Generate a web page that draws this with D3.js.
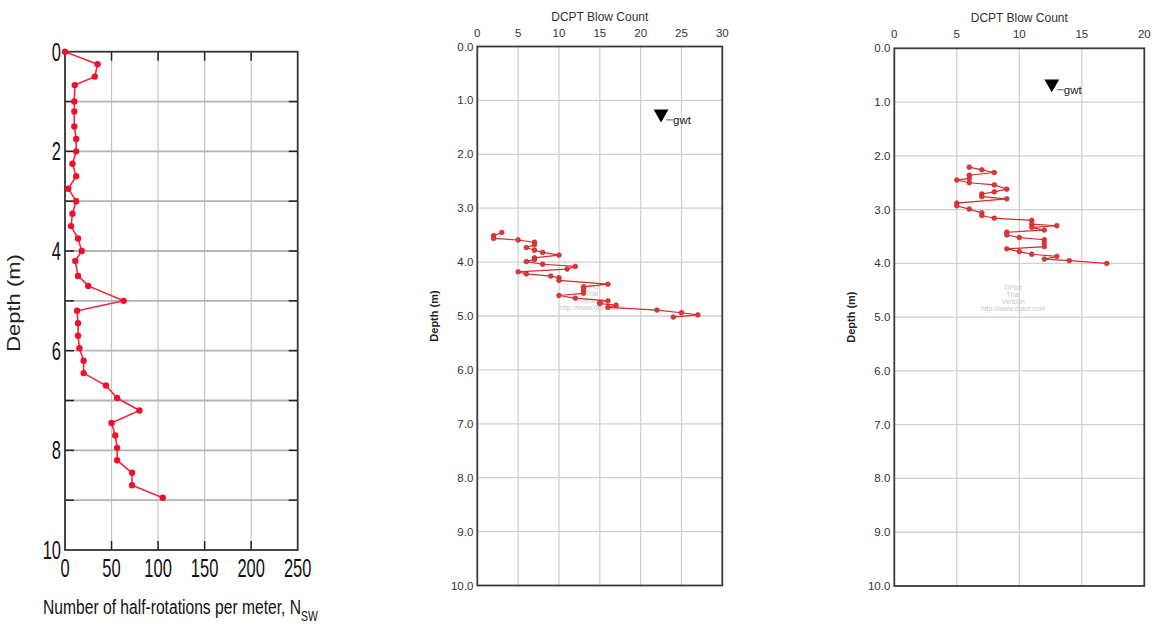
<!DOCTYPE html>
<html>
<head>
<meta charset="utf-8">
<script src="https://cdn.jsdelivr.net/npm/d3@7"></script>
<style>
  html, body { margin: 0; padding: 0; background: #fff; }
  svg { display: block; }
  .narrow { font-family: 'Liberation Sans', Arial, sans-serif; }
  .dp { font-family: 'Liberation Sans', Arial, sans-serif; }
</style>
</head>
<body>
<div id="chart"></div>
<script>
// left panel: Swedish weight sounding, half-rotations per meter
var swsDepth = [0, 0.25, 0.5, 0.67, 1.0, 1.2, 1.5, 1.75, 2.0, 2.25, 2.5, 2.75, 3.0, 3.25, 3.5, 3.75, 4.0, 4.2, 4.5, 4.7,
                5.0, 5.2, 5.45, 5.7, 5.95, 6.2, 6.45, 6.7, 6.95, 7.2, 7.45, 7.7, 7.95, 8.2, 8.45, 8.7, 8.95];
var swsNsw = [0, 35, 32, 10.5, 10, 10, 10, 12, 12, 8, 12, 3.5, 12, 8, 6.5, 14, 18, 11, 14, 25,
              63, 13, 14, 14, 15.5, 20, 20, 44, 56, 80, 50, 54, 56, 56, 72, 72, 105];
var swsXTicks = [0, 50, 100, 150, 200, 250];
var swsYTicks = [0, 2, 4, 6, 8, 10];

// middle panel: DCPT test 1
var dcpt1Depth = [3.45, 3.51, 3.56, 3.59, 3.63, 3.68, 3.73, 3.78, 3.82, 3.87, 3.92, 3.95, 3.99, 4.04, 4.08, 4.13, 4.18, 4.22,
                  4.26, 4.29, 4.34, 4.41, 4.46, 4.52, 4.58, 4.62, 4.67, 4.72, 4.75, 4.77, 4.80, 4.84, 4.89, 4.94, 4.98, 5.02];
var dcpt1Count = [3, 2, 2, 5, 7, 7, 6, 7, 8, 10, 7, 7, 6, 8, 12, 11, 5, 6,
                  9, 10, 10, 16, 13, 13, 13, 10, 12, 16, 15, 15, 17, 16, 22, 25, 27, 24];
var dcpt1Gwt = [22.5, 1.25];
var dcpt1XTicks = [0, 5, 10, 15, 20, 25, 30];

// right panel: DCPT test 2
var dcpt2Depth = [2.21, 2.26, 2.31, 2.36, 2.42, 2.45, 2.50, 2.54, 2.62, 2.67, 2.71, 2.76, 2.80, 2.88, 2.93, 2.99, 3.06, 3.11, 3.16,
                  3.20, 3.27, 3.30, 3.33, 3.38, 3.42, 3.47, 3.52, 3.56, 3.62, 3.69, 3.73, 3.78, 3.83, 3.87, 3.92, 3.95, 4.00];
var dcpt2Count = [6, 7, 8, 6, 6, 5, 6, 8, 9, 8, 7, 7, 9, 5, 5, 6, 7, 7, 8,
                  11, 11, 13, 11, 12, 9, 9, 10, 12, 12, 12, 9, 10, 11, 13, 12, 14, 17];
var dcpt2Gwt = [12.6, 0.66];
var dcpt2XTicks = [0, 5, 10, 15, 20];

var depthTicks = d3.range(0, 10.5, 1);

var svg = d3.select("#chart").append("svg")
    .attr("width", 1157)
    .attr("height", 626);

// ---------- left panel ----------
(function() {
    var x = d3.scaleLinear().domain([0, 250]).range([65, 297.7]);
    var y = d3.scaleLinear().domain([0, 10]).range([51.7, 550]);
    var g = svg.append("g");

    // grid
    g.selectAll(".vg").data([50, 100, 150, 200]).enter().append("line")
        .attr("x1", d => x(d)).attr("x2", d => x(d))
        .attr("y1", y(0)).attr("y2", y(10))
        .attr("stroke", "#c4c4c4").attr("stroke-width", 1.2);
    g.selectAll(".hg").data(depthTicks.slice(1, 10)).enter().append("line")
        .attr("x1", x(0)).attr("x2", x(250))
        .attr("y1", d => y(d)).attr("y2", d => y(d))
        .attr("stroke", "#b4b4b4").attr("stroke-width", 1.8);

    // inner ticks
    var tk = 9;
    depthTicks.slice(1, 10).forEach(function(d) {
        g.append("line").attr("x1", x(0)).attr("x2", x(0) + tk).attr("y1", y(d)).attr("y2", y(d))
            .attr("stroke", "#222").attr("stroke-width", 1.5);
        g.append("line").attr("x1", x(250) - tk).attr("x2", x(250)).attr("y1", y(d)).attr("y2", y(d))
            .attr("stroke", "#222").attr("stroke-width", 1.5);
    });
    [50, 100, 150, 200].forEach(function(d) {
        g.append("line").attr("x1", x(d)).attr("x2", x(d)).attr("y1", y(0)).attr("y2", y(0) + tk)
            .attr("stroke", "#222").attr("stroke-width", 1.5);
        g.append("line").attr("x1", x(d)).attr("x2", x(d)).attr("y1", y(10) - tk).attr("y2", y(10))
            .attr("stroke", "#222").attr("stroke-width", 1.5);
    });

    // frame
    g.append("rect")
        .attr("x", x(0)).attr("y", y(0))
        .attr("width", x(250) - x(0)).attr("height", y(10) - y(0))
        .attr("fill", "none").attr("stroke", "#333").attr("stroke-width", 1.8);

    // tick labels (source image is squeezed horizontally, so squeeze the glyphs too)
    g.selectAll(".yl").data(swsYTicks).enter().append("text")
        .attr("class", "narrow")
        .attr("transform", d => "translate(" + (x(0) - 4) + "," + (y(d) + 9) + ") scale(0.66,1)")
        .attr("text-anchor", "end")
        .attr("font-size", 25).attr("fill", "#111")
        .text(d => d);
    g.selectAll(".xl").data(swsXTicks).enter().append("text")
        .attr("class", "narrow")
        .attr("transform", d => "translate(" + x(d) + ",577) scale(0.66,1)")
        .attr("text-anchor", "middle")
        .attr("font-size", 25).attr("fill", "#111")
        .text(d => d);

    g.append("text").attr("class", "narrow")
        .attr("transform", "translate(20,303) rotate(-90) scale(1,0.8)")
        .attr("text-anchor", "middle")
        .attr("font-size", 22).attr("fill", "#222")
        .text("Depth (m)");

    var xl = g.append("text").attr("class", "narrow")
        .attr("transform", "translate(43,614) scale(0.745,1)")
        .attr("font-size", 21).attr("fill", "#111");
    xl.append("tspan").text("Number of half-rotations per meter, N");
    xl.append("tspan").attr("dy", 7).attr("font-size", 14).text("SW");

    // data
    var pts = swsDepth.map((d, i) => [swsNsw[i], d]);
    var line = d3.line().x(d => x(d[0])).y(d => y(d[1]));
    g.append("path").attr("d", line(pts))
        .attr("fill", "none").attr("stroke", "#f0283c").attr("stroke-width", 1.6);
    g.selectAll(".pt").data(pts).enter().append("circle")
        .attr("cx", d => x(d[0])).attr("cy", d => y(d[1]))
        .attr("r", 3.2).attr("fill", "#f0102c");
})();

// ---------- DCPT panels ----------
function dcptPanel(opts) {
    var x = d3.scaleLinear().domain([0, opts.xMax]).range([opts.left, opts.right]);
    var y = d3.scaleLinear().domain([0, 10]).range([opts.top, opts.bottom]);
    var g = svg.append("g");

    g.selectAll(".vg").data(opts.xTicks.slice(1, -1)).enter().append("line")
        .attr("x1", d => x(d)).attr("x2", d => x(d))
        .attr("y1", y(0)).attr("y2", y(10))
        .attr("stroke", "#d0d0d0").attr("stroke-width", 1.3);
    g.selectAll(".hg").data(depthTicks.slice(1, 10)).enter().append("line")
        .attr("x1", x(0)).attr("x2", x(opts.xMax))
        .attr("y1", d => y(d)).attr("y2", d => y(d))
        .attr("stroke", "#d0d0d0").attr("stroke-width", 1.3);

    // watermark
    var wm = ["DPlot", "Trial", "Version", "http://www.dplot.com"];
    g.selectAll(".wm").data(wm).enter().append("text")
        .attr("class", "dp")
        .attr("x", x(opts.wm[0])).attr("y", (d, i) => y(opts.wm[1]) + i * 7)
        .attr("text-anchor", "middle")
        .attr("font-size", 7).attr("fill", "#c8c8c8")
        .text(d => d);

    g.append("rect")
        .attr("x", x(0)).attr("y", y(0))
        .attr("width", x(opts.xMax) - x(0)).attr("height", y(10) - y(0))
        .attr("fill", "none").attr("stroke", "#3a3a3a").attr("stroke-width", 1.8);

    g.selectAll(".yl").data(depthTicks).enter().append("text")
        .attr("class", "dp")
        .attr("x", x(0) - 4).attr("y", d => y(d) + 4)
        .attr("text-anchor", "end")
        .attr("font-size", 11.5).attr("fill", "#333")
        .text(d => d.toFixed(1));
    g.selectAll(".xl").data(opts.xTicks).enter().append("text")
        .attr("class", "dp")
        .attr("x", d => x(d)).attr("y", opts.top - 10)
        .attr("text-anchor", "middle")
        .attr("font-size", 11.5).attr("fill", "#333")
        .text(d => d);
    g.append("text").attr("class", "dp")
        .attr("x", (x(0) + x(opts.xMax)) / 2).attr("y", opts.top - 26)
        .attr("text-anchor", "middle")
        .attr("font-size", 12).attr("fill", "#333")
        .text("DCPT Blow Count");
    g.append("text").attr("class", "dp")
        .attr("transform", "translate(" + (x(0) - 39) + "," + y(5) + ") rotate(-90)")
        .attr("text-anchor", "middle")
        .attr("font-size", 11).attr("font-weight", "bold").attr("fill", "#222")
        .text("Depth (m)");

    // ground water table marker
    var gx = x(opts.gwt[0]), gy = y(opts.gwt[1]);
    g.append("path")
        .attr("d", d3.symbol().type(d3.symbolTriangle).size(95)())
        .attr("transform", "translate(" + gx + "," + gy + ") rotate(180)")
        .attr("fill", "#000");
    g.append("line")
        .attr("x1", gx + 5).attr("x2", gx + 12)
        .attr("y1", gy + 6).attr("y2", gy + 6)
        .attr("stroke", "#333").attr("stroke-width", 0.8);
    g.append("text").attr("class", "dp")
        .attr("x", gx + 12).attr("y", gy + 10)
        .attr("font-size", 11.5).attr("fill", "#222")
        .text("gwt");

    var pts = opts.depth.map((d, i) => [opts.count[i], d]);
    var line = d3.line().x(d => x(d[0])).y(d => y(d[1]));
    g.append("path").attr("d", line(pts))
        .attr("fill", "none").attr("stroke", "#d42e2e").attr("stroke-width", 1.2);
    g.selectAll(".pt").data(pts).enter().append("circle")
        .attr("cx", d => x(d[0])).attr("cy", d => y(d[1]))
        .attr("r", 2.4).attr("fill", "#d83a3a").attr("stroke", "#c42020").attr("stroke-width", 0.6);
}

dcptPanel({
    xMax: 30, left: 477.3, right: 722.3, top: 46.5, bottom: 585.5,
    xTicks: dcpt1XTicks, depth: dcpt1Depth, count: dcpt1Count, gwt: dcpt1Gwt,
    wm: [14, 4.5]
});
dcptPanel({
    xMax: 20, left: 894.3, right: 1144.3, top: 48.3, bottom: 586,
    xTicks: dcpt2XTicks, depth: dcpt2Depth, count: dcpt2Count, gwt: dcpt2Gwt,
    wm: [9.5, 4.5]
});
</script>
</body>
</html>
